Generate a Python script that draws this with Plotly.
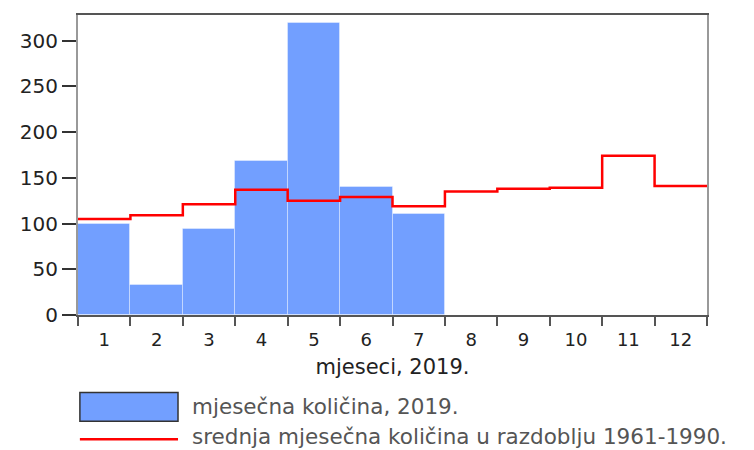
import plotly.graph_objects as go

months = list(range(1, 13))
month_labels = [str(m) for m in months]
rain_2019 = [100, 33, 94, 168, 319, 140, 110]
avg_1961_1990 = [105, 109, 121, 137, 125, 129, 119, 135, 138, 139, 174, 141]

bar_name = "mjesečna količina, 2019."
line_name = "srednja mjesečna količina u razdoblju 1961-1990."

font = dict(family="DejaVu Sans", size=20, color="#222")
legend_font = dict(family="DejaVu Sans", size=21.5, color="#555")

# step line: each month's level spans its full category cell
step_x, step_y = [], []
for m, v in zip(months, avg_1961_1990):
    step_x += [m - 0.5, m + 0.5]
    step_y += [v, v]

fig = go.Figure()
fig.add_trace(
    go.Bar(
        x=months[: len(rain_2019)],
        y=rain_2019,
        width=1,
        marker=dict(color="#729fff", line=dict(color="rgba(255,255,255,0.35)", width=1)),
        name=bar_name,
        showlegend=False,
    )
)
fig.add_trace(
    go.Scatter(
        x=step_x,
        y=step_y,
        mode="lines",
        line=dict(color="#ff0000", width=2.5),
        name=line_name,
        showlegend=False,
    )
)
# invisible trace to carry the boundary tick marks on xaxis2
fig.add_trace(go.Scatter(x=[0.5, 12.5], y=[0, 0], mode="markers", marker=dict(opacity=0),
                         xaxis="x2", showlegend=False, hoverinfo="skip"))

# the page has an 8px body margin, so the figure is a bit smaller and shifted
fig.update_layout(
    width=746,
    height=442,
    margin=dict(l=70, r=47, t=5, b=135),
    paper_bgcolor="white",
    plot_bgcolor="white",
    font=font,
    bargap=0,
    xaxis=dict(
        range=[0.5, 12.5],
        tickvals=months,
        ticktext=month_labels,
        ticks="",
        showgrid=False,
        zeroline=False,
        showline=True,
        linecolor="#555",
        linewidth=1.5,
        mirror=True,
        title=dict(text="mjeseci, 2019.", standoff=10, font=dict(family="DejaVu Sans", size=21, color="#222")),
        tickfont=dict(family="DejaVu Sans", size=18, color="#222"),
        ticklabelstandoff=8,
    ),
    xaxis2=dict(
        overlaying="x",
        matches="x",
        range=[0.5, 12.5],
        tickvals=[m - 0.5 for m in months] + [months[-1] + 0.5],
        showticklabels=False,
        ticks="outside",
        ticklen=10,
        tickcolor="#555",
        tickwidth=1.5,
        showgrid=False,
        zeroline=False,
        side="bottom",
    ),
    yaxis=dict(
        range=[0, 328],
        tickvals=[0, 50, 100, 150, 200, 250, 300],
        ticks="outside",
        ticklen=14,
        tickcolor="#333",
        tickwidth=1.5,
        showgrid=False,
        zeroline=False,
        showline=True,
        linecolor="#999",
        linewidth=2,
        mirror=True,
        tickfont=font,
    ),
)

# custom legend below the plot
fig.add_shape(type="rect", xref="paper", yref="paper", x0=0.003, x1=0.159, y0=-0.354, y1=-0.258,
              fillcolor="#729fff", line=dict(color="#333", width=1.5))
fig.add_shape(type="line", xref="paper", yref="paper", x0=0.003, x1=0.159, y0=-0.414, y1=-0.414,
              line=dict(color="#ff0000", width=2.5))
fig.add_annotation(xref="paper", yref="paper", x=0.178, y=-0.306, text=bar_name, showarrow=False,
                   xanchor="left", yanchor="middle", font=legend_font)
fig.add_annotation(xref="paper", yref="paper", x=0.178, y=-0.405, text=line_name, showarrow=False,
                   xanchor="left", yanchor="middle", font=legend_font)

fig.write_html("out.html")
